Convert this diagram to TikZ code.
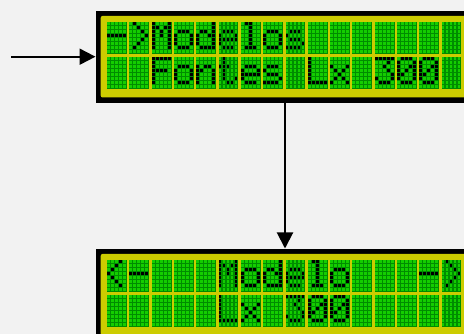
\documentclass[tikz,border=0pt]{standalone}
\usepackage{xcolor}
\usepackage{tikz}
\usetikzlibrary{arrows.meta, positioning}
\definecolor{lcdyellow}{RGB}{204,204,0}
\definecolor{lcdgreen}{RGB}{20,205,0}
\definecolor{lcdgrid}{RGB}{0,140,0}
\definecolor{paper}{RGB}{242,242,242}

% 5x8 glyphs, one number per dot row (leftmost dot = 16)
\def\glyphsp{0,0,0,0,0,0,0,0}
\def\glyphdash{0,0,0,31,0,0,0,0}
\def\glyphgt{8,4,2,1,2,4,8,0}
\def\glyphlt{2,4,8,16,8,4,2,0}
\def\glyphM{17,27,21,21,17,17,17,0}
\def\glypho{0,0,14,17,17,17,14,0}
\def\glyphd{1,1,13,19,17,17,15,0}
\def\glyphe{0,0,14,17,31,16,14,0}
\def\glyphl{12,4,4,4,4,4,14,0}
\def\glyphs{0,0,14,16,14,1,30,0}
\def\glyphF{31,16,16,30,16,16,16,0}
\def\glyphn{0,0,22,25,17,17,17,0}
\def\glypht{8,8,28,8,8,9,6,0}
\def\glyphL{16,16,16,16,16,16,31,0}
\def\glyphx{0,0,17,10,4,10,17,0}
\def\glyphthree{31,2,4,2,1,17,14,0}
\def\glyphzero{14,17,19,21,25,17,14,0}

% one line of 16 cells, #1 = line (0 or 1), #2 = glyph names
\newcommand\lcdline[2]{%
  \foreach \g [count=\k from 0] in {#2} {
    \pgfmathsetmacro\cx{11.6+\k*22.3}
    \pgfmathsetmacro\cy{11.8+#1*35}
    \fill[lcdgrid] (\cx,\cy) rectangle ++(19.8,31.8);
    \edef\dotrows{\csname glyph\g\endcsname}
    \foreach \r [count=\j from 0] in \dotrows {
      \foreach \c in {0,...,4} {
        \pgfmathtruncatemacro\bit{mod(floor(\r/2^(4-\c)),2)}
        \ifnum\bit=1 \def\dotcol{black}\else\def\dotcol{lcdgreen}\fi
        \fill[\dotcol] (\cx+4*\c,\cy+4*\j) rectangle ++(2.8,2.8);
      }
    }
  }%
}

\begin{document}
\begin{tikzpicture}[x=1pt, y=-1pt,
    lcd/.style={fill=black, minimum width=378.6pt, minimum height=92pt, inner sep=0pt},
    face/.style={fill=lcdyellow, rounded corners=2pt, minimum width=368.6pt, minimum height=81.6pt, inner sep=0pt},
    arr/.style={-{Triangle[length=16pt, width=16pt]}, line width=2pt}]
    \useasboundingbox (0,0) rectangle (464,334);
    \clip (0,0) rectangle (464,334);
    \fill[paper] (0,0) rectangle (464,334);
    \node[lcd] (menu) at (285,56.7) {};
    \node[lcd, below=145.6pt of menu] (model) {};
    \node[face] (menuface) at (menu) {};
    \node[face] (modelface) at (model) {};
    \begin{scope}[shift={(menu.north west)}]
      \lcdline{0}{dash,gt,M,o,d,e,l,o,s,sp,sp,sp,sp,sp,sp,sp}
      \lcdline{1}{sp,sp,F,o,n,t,e,s,sp,L,x,sp,three,zero,zero,sp}
    \end{scope}
    \begin{scope}[shift={(model.north west)}]
      \lcdline{0}{lt,dash,sp,sp,sp,M,o,d,e,l,o,sp,sp,sp,dash,gt}
      \lcdline{1}{sp,sp,sp,sp,sp,L,x,sp,three,zero,zero,sp,sp,sp,sp,sp}
    \end{scope}
    \coordinate (feed) at (11,56.7);
    \draw[arr] (feed) -- (menu);
    \draw[arr] (menu) -- (model);
\end{tikzpicture}
\end{document}
